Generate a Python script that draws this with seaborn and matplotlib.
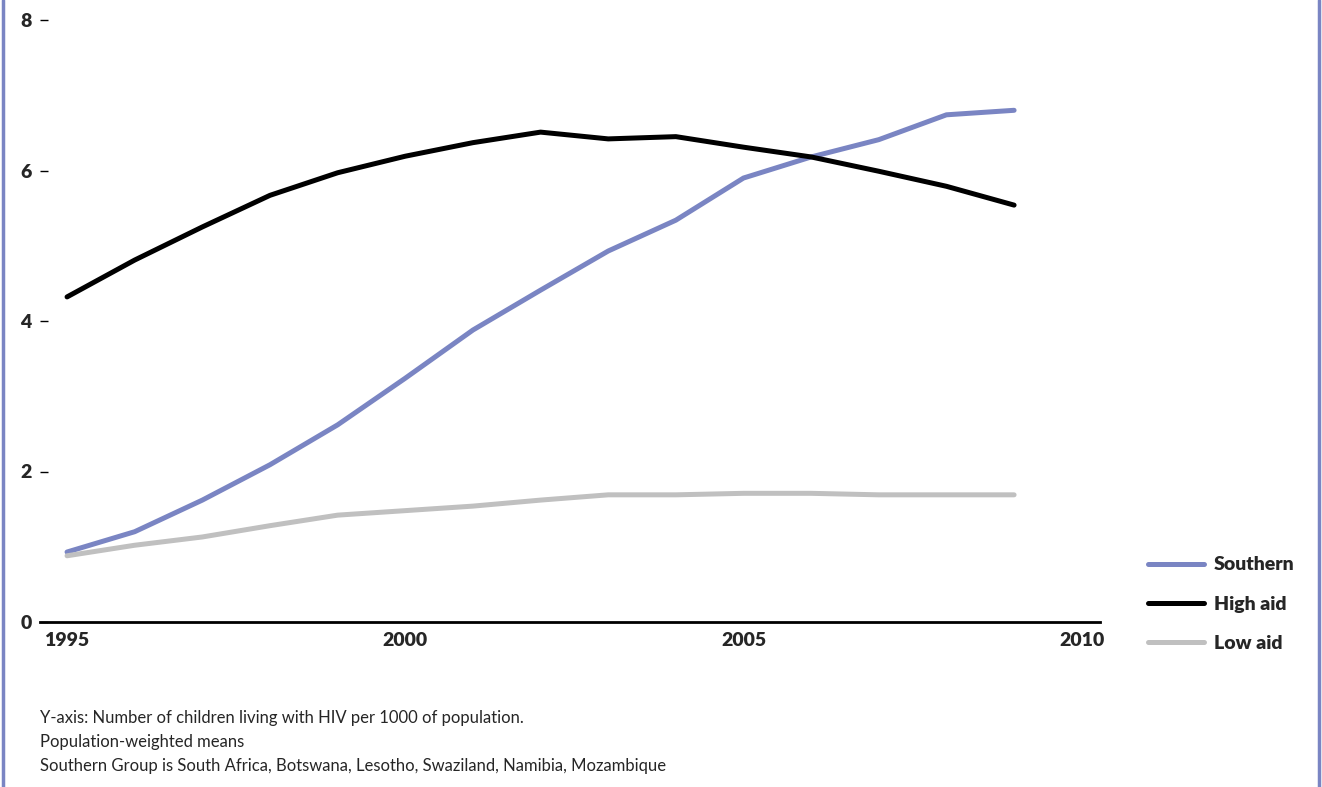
import pandas as pd
import matplotlib
matplotlib.use('Agg')
import matplotlib.pyplot as plt
from matplotlib.lines import Line2D
import seaborn as sns

# Data
years = list(range(1995, 2010))
southern = [0.93, 1.20, 1.62, 2.09, 2.62, 3.24, 3.88, 4.41, 4.93, 5.34, 5.90, 6.18, 6.41, 6.74, 6.80]
high_aid = [4.32, 4.81, 5.25, 5.67, 5.97, 6.19, 6.37, 6.51, 6.42, 6.45, 6.31, 6.18, 5.99, 5.79, 5.54]
low_aid = [0.88, 1.02, 1.13, 1.28, 1.42, 1.48, 1.54, 1.62, 1.69, 1.69, 1.71, 1.71, 1.69, 1.69, 1.69]
series_names = ['Southern', 'High aid', 'Low aid']
x_ticks = [1995, 2000, 2005, 2010]
y_ticks = [0, 2, 4, 6, 8]
notes = [
    'Y-axis: Number of children living with HIV per 1000 of population.',
    'Population-weighted means',
    'Southern Group is South Africa, Botswana, Lesotho, Swaziland, Namibia, Mozambique',
]

df = pd.DataFrame({
    'year': years * 3,
    'value': southern + high_aid + low_aid,
    'group': [n for n in series_names for _ in years],
})

sns.set_style('white')
plt.rcParams['font.family'] = ['Lato', 'DejaVu Sans']

purple = '#7a85c3'
palette = {'Southern': purple, 'High aid': '#000000', 'Low aid': '#c0c0c0'}

W, H = 1322, 787
fig = plt.figure(figsize=(W / 100, H / 100), dpi=100)
ax = fig.add_axes([40 / W, (H - 622) / H, (1100 - 40) / W, (622 - 20) / H])

sns.lineplot(data=df, x='year', y='value', hue='group', palette=palette,
             hue_order=series_names, linewidth=3.6, ax=ax, legend=False)

ax.set_xlim(1994.6, 2010.27)
ax.set_ylim(0, 8)
ax.set_xticks(x_ticks)
ax.set_yticks(y_ticks)
ax.set_xlabel('')
ax.set_ylabel('')
for s in ['top', 'right', 'left']:
    ax.spines[s].set_visible(False)
ax.spines['bottom'].set_color('black')
ax.spines['bottom'].set_linewidth(2)
ax.tick_params(axis='y', left=True, direction='in', length=6, width=1, color='black',
               pad=6, labelsize=14)
ax.tick_params(axis='x', bottom=False, length=0, pad=7, labelsize=14)
for lab in ax.get_xticklabels() + ax.get_yticklabels():
    lab.set_fontweight('heavy')

# legend
handles = [Line2D([], [], color=palette[n], linewidth=3.6) for n in series_names]
leg = fig.legend(handles, series_names, loc='upper left',
                 bbox_to_anchor=(1130 / W, (H - 539) / H), frameon=False,
                 handlelength=2.9, handletextpad=0.5, labelspacing=1.15,
                 prop={'size': 14, 'weight': 'heavy'})

# footnotes
for i, t in enumerate(notes):
    fig.text(40 / W, (H - 718 - 24 * i) / H, t, fontsize=12, va='center', ha='left')

# purple side borders
fig.add_artist(Line2D([3 / W, 3 / W], [0, 1], color=purple, linewidth=2.5, transform=fig.transFigure))
fig.add_artist(Line2D([1319 / W, 1319 / W], [0, 1], color=purple, linewidth=2.5, transform=fig.transFigure))

fig.savefig('out.png', dpi=100, facecolor='white')
